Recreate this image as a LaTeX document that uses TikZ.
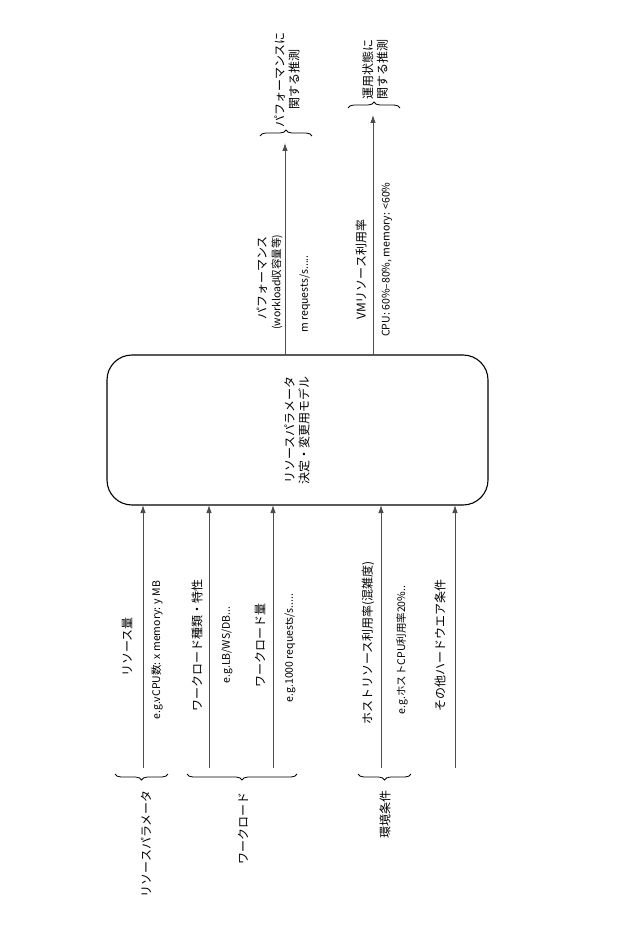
\documentclass[tikz,border=0pt]{standalone}
\usepackage{fontspec}
\setmainfont{Noto Sans CJK JP}
\usetikzlibrary{decorations.pathreplacing,arrows.meta}
\begin{document}
\begin{tikzpicture}[x=1pt,y=-1pt,
  lab/.style={rotate=90,font=\fontsize{12}{14.5}\selectfont,inner sep=0pt},
  sub/.style={rotate=90,font=\fontsize{10.5}{12}\selectfont,inner sep=0pt},
  arr/.style={draw=black!70,line width=0.9pt,-{Latex[length=8pt,width=5.5pt]}},
  brc/.style={decorate,decoration={brace,amplitude=6pt},line width=0.8pt}]
\useasboundingbox (0,0) rectangle (640,949);
\node[draw,line width=1.1pt,rounded corners=25pt,minimum width=381pt,minimum height=150pt] (m) at (297.5,430) {};
\node[lab,align=center] (mt) at (297,430) {リソースパラメータ\\決定・変更用モデル};
% inputs
\foreach \n/\x in {a/143,b/209,c/273,d/381,e/455}{
  \coordinate (s\n) at (\x,768);
  \coordinate (t\n) at (\x,505);
  \draw[arr] (s\n) -- (t\n);}
\node[lab] (l1) at (127,647) {リソース量};
\node[sub] (l2) at (157,650) {e.g.vCPU数: x memory: y MB};
\node[lab] (l3) at (197,645) {ワークロード種類・特性};
\node[sub] (l4) at (227,645) {e.g.LB/WS/DB...};
\node[lab] (l5) at (260,645) {ワークロード量};
\node[sub] (l6) at (290,648) {e.g.1000 requests/s.....};
\node[lab] (l7) at (368,643) {ホストリソース利用率(混雑度)};
\node[sub] (l8) at (402,650) {e.g.ホストCPU利用率20\%..};
\node[lab] (l9) at (440,645) {その他ハードウエア条件};
% bottom braces
\coordinate (b1a) at (168,774); \coordinate (b1b) at (115,774);
\coordinate (b2a) at (297,774); \coordinate (b2b) at (187,774);
\coordinate (b3a) at (411,774); \coordinate (b3b) at (358,774);
\draw[brc] (b1a) -- (b1b);
\draw[brc] (b2a) -- (b2b);
\draw[brc] (b3a) -- (b3b);
\node[lab,anchor=east] (g1) at (146,790) {リソースパラメータ};
\node[lab,anchor=east] (g2) at (243,792) {ワークロード};
\node[lab,anchor=east] (g3) at (385,790) {環境条件};
% outputs
\coordinate (o1s) at (285,355); \coordinate (o1t) at (285,143);
\coordinate (o2s) at (373,355); \coordinate (o2t) at (373,115);
\draw[arr] (o1s) -- (o1t);
\draw[arr] (o2s) -- (o2t);
\node[lab,anchor=west] (p1) at (262,320) {パフォーマンス};
\node[sub,anchor=west] (p2) at (277,330) {(workload収容量等)};
\node[sub,anchor=west] (p3) at (305,333) {m requests/s.....};
\node[lab,anchor=west] (p4) at (361,320) {VMリソース利用率};
\node[sub,anchor=west] (p5) at (387,337) {CPU: 60\%–80\%, memory: <60\%};
\coordinate (c1a) at (260,136); \coordinate (c1b) at (312,136);
\coordinate (c2a) at (348,108); \coordinate (c2b) at (400,108);
\draw[brc] (c1a) -- (c1b);
\draw[brc] (c2a) -- (c2b);
\node[lab,align=center,anchor=west] (r1) at (287,128) {パフォーマンスに\\関する推測};
\node[lab,align=center,anchor=west] (r2) at (375,100) {運用状態に\\関する推測};
\end{tikzpicture}
\end{document}
